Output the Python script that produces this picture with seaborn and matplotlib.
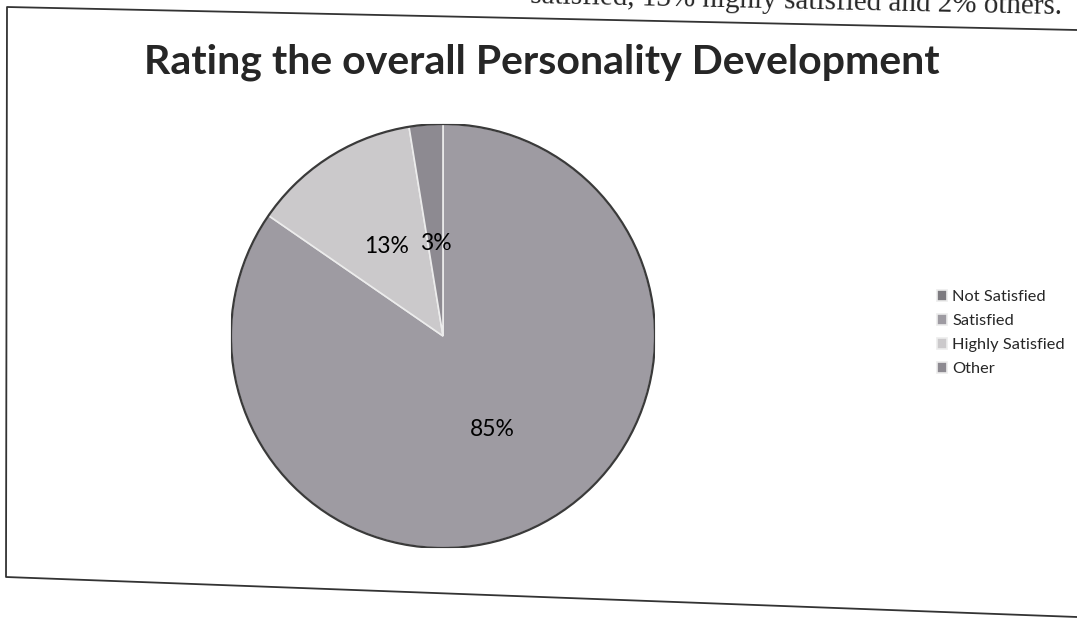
import seaborn as sns
import matplotlib.pyplot as plt
from matplotlib.lines import Line2D

categories = ["Not Satisfied", "Satisfied", "Highly Satisfied", "Other"]
responses = [0, 66, 10, 2]
slice_colors = ["#7d7b80", "#9e9ba2", "#cbc9cb", "#8d8a91"]

W, H = 1077, 620


def px(x, y):
    """pixel position (from top-left) -> figure fraction"""
    return x / W, 1 - y / H


def pct_label(p):
    return f"{p:.0f}%" if p > 0 else ""


sns.set_theme(style="white")
plt.rcParams["font.family"] = ["Lato", "DejaVu Sans"]

fig = plt.figure(figsize=(W / 100, H / 100), dpi=100)

# pie area: centre ~ (443, 336) px, radius ~ 212 px
r = 212
ax = fig.add_axes([(443 - r) / W, (H - 336 - r) / H, 2 * r / W, 2 * r / H])
wedges, texts, autotexts = ax.pie(
    responses,
    colors=slice_colors,
    startangle=90,
    counterclock=False,
    autopct=pct_label,
    pctdistance=0.5,
    wedgeprops=dict(edgecolor="#ececec", linewidth=1.2),
    textprops=dict(fontsize=16.5, color="black"),
)
ax.add_patch(plt.Circle((0, 0), 1, fill=False, edgecolor="#3a3a3a", lw=1.6))
ax.set_xlim(-1, 1)
ax.set_ylim(-1, 1)
ax.set_axis_off()

# small slice label sits a bit closer to the centre
x3, y3 = autotexts[3].get_position()
autotexts[3].set_position((x3 * 0.88, y3 * 0.88))

fig.legend(
    wedges,
    categories,
    loc="center left",
    bbox_to_anchor=px(922, 333),
    frameon=False,
    fontsize=11.8,
    handlelength=0.65,
    handleheight=0.65,
    handletextpad=0.3,
    labelspacing=0.6,
)

fig.text(*px(542, 62), "Rating the overall Personality Development",
         ha="center", va="center", fontsize=29.5, fontweight="bold")

# cut-off line of the page text above the chart (skewed like the scan)
fig.text(*px(1062, 14), "satisfied, 13% highly satisfied and 2% others.",
         ha="right", va="baseline", family="Liberation Serif", fontsize=21,
         rotation=-1.2, rotation_mode="anchor")

# chart border, slightly skewed like the scan
frame = [(1077, 30), (7, 7), (6, 577), (1077, 617)]
xs, ys = zip(*[px(x, y) for x, y in frame])
fig.add_artist(Line2D(xs, ys, transform=fig.transFigure, color="#333333", lw=1.3))

plt.savefig("out.png", dpi=100)
plt.close()
